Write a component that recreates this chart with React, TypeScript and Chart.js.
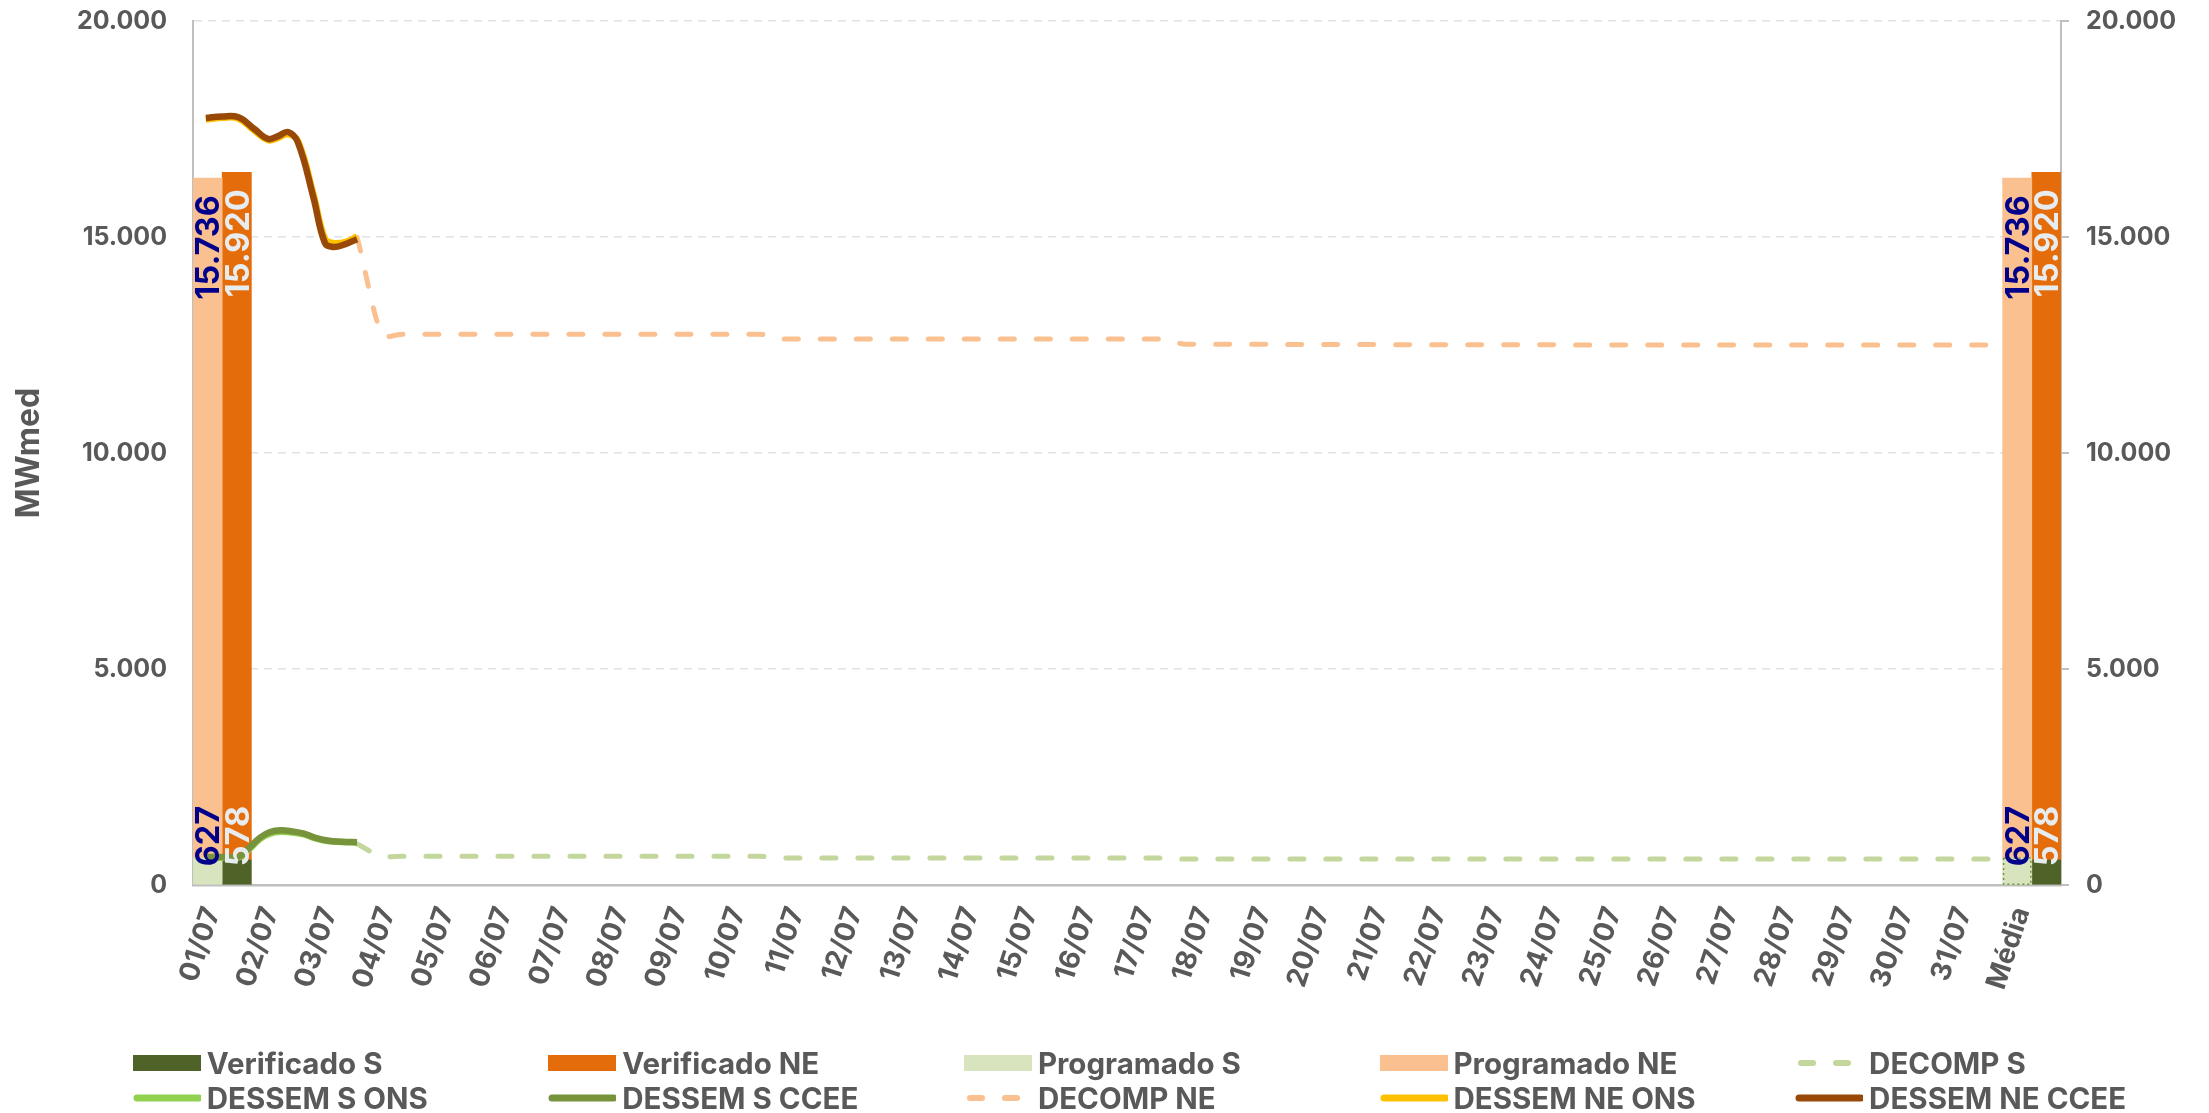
import React, { useEffect, useRef } from 'react';
import { Chart, registerables } from 'chart.js';

Chart.register(...registerables);

// ---------- data ----------
const categories = ['01/07', '02/07', '03/07', '04/07', '05/07', '06/07', '07/07', '08/07', '09/07', '10/07',
  '11/07', '12/07', '13/07', '14/07', '15/07', '16/07', '17/07', '18/07', '19/07', '20/07',
  '21/07', '22/07', '23/07', '24/07', '25/07', '26/07', '27/07', '28/07', '29/07', '30/07', '31/07', 'Média'];

const verificadoS = [578, null, null, null, null, null, null, null, null, null,
  null, null, null, null, null, null, null, null, null, null,
  null, null, null, null, null, null, null, null, null, null, null, 578];
const verificadoNE = [15920, null, null, null, null, null, null, null, null, null,
  null, null, null, null, null, null, null, null, null, null,
  null, null, null, null, null, null, null, null, null, null, null, 15920];
const programadoS = [627, null, null, null, null, null, null, null, null, null,
  null, null, null, null, null, null, null, null, null, null,
  null, null, null, null, null, null, null, null, null, null, null, 627];
const programadoNE = [15736, null, null, null, null, null, null, null, null, null,
  null, null, null, null, null, null, null, null, null, null,
  null, null, null, null, null, null, null, null, null, null, null, 15736];

// sub-daily series positions, in day units across the plot (0 = left edge, 32 = right edge)
const dessemNePos = [0.22, 0.5, 0.78, 1.05, 1.29, 1.45, 1.63, 1.8, 2.06, 2.26, 2.4, 2.6, 2.81];
const dessemNeCcee = [17756, 17790, 17770, 17500, 17270, 17330, 17430, 17180, 15930, 14860, 14770, 14830, 14950];
const dessemNeOns = [17720, 17760, 17740, 17460, 17240, 17290, 17380, 17220, 16010, 14960, 14860, 14880, 15010];

const dessemSPos = [0.22, 0.5, 0.8, 0.98, 1.15, 1.32, 1.5, 1.7, 1.9, 2.1, 2.3, 2.55, 2.81];
const dessemSCcee = [648, 650, 660, 880, 1100, 1227, 1265, 1240, 1190, 1090, 1030, 1000, 990];
const dessemSOns = [630, 635, 645, 850, 1070, 1190, 1230, 1215, 1175, 1080, 1020, 995, 985];

const decompPos = [2.81, 3.3, 3.6, 9.7, 10.1, 16.6, 17.0, 30.79];
const decompNE = [14990, 12690, 12750, 12750, 12640, 12640, 12520, 12500];
const decompS = [950, 650, 664, 664, 625, 625, 600, 600];

const yMin = 0;
const yMax = 20000;
const yStep = 5000;

// ---------- styles ----------
const C = {
  verS: '#4F6228',
  verNE: '#E46C0A',
  progS: '#D7E4BD',
  progNE: '#FAC090',
  decompS: '#C3D69B',
  dessemSOns: '#92D050',
  dessemSCcee: '#77933C',
  decompNE: '#FAC090',
  dessemNeOns: '#FFC000',
  dessemNeCcee: '#984807',
};
const TEXT = '#595959';
const AXIS = '#BFBFBF';
const GRID = '#DDE4E7';
const FONT = 'Inter, "Noto Sans", sans-serif';
const CLEAR = 'rgba(0,0,0,0)';

const fmt = (v: number) => String(Math.round(v)).replace(/\B(?=(\d{3})+(?!\d))/g, '.');
const zip = (xs: number[], ys: number[]) => xs.map((x, i) => ({ x, y: ys[i] }));

// two bar slots per category: Programado (left) and Verificado (right)
const barSlots = categories.flatMap((c) => [c + ' P', c + ' V']);
const leftSlot = (arr: (number | null)[]) => arr.flatMap((v) => [v, null]);
const rightSlot = (arr: (number | null)[]) => arr.flatMap((v) => [null, v]);

const legendItems = [
  { label: 'Verificado S', color: C.verS, kind: 'box' },
  { label: 'Verificado NE', color: C.verNE, kind: 'box' },
  { label: 'Programado S', color: C.progS, kind: 'box' },
  { label: 'Programado NE', color: C.progNE, kind: 'box' },
  { label: 'DECOMP S', color: C.decompS, kind: 'dash' },
  { label: 'DESSEM S ONS', color: C.dessemSOns, kind: 'line' },
  { label: 'DESSEM S CCEE', color: C.dessemSCcee, kind: 'line' },
  { label: 'DECOMP NE', color: C.decompNE, kind: 'dash' },
  { label: 'DESSEM NE ONS', color: C.dessemNeOns, kind: 'line' },
  { label: 'DESSEM NE CCEE', color: C.dessemNeCcee, kind: 'line' },
];

const labelSpecs = [
  { label: 'Programado S', color: '#00008B', anchor: 'base' },
  { label: 'Programado NE', color: '#00008B', anchor: 'end' },
  { label: 'Verificado S', color: '#E6ECEF', anchor: 'base' },
  { label: 'Verificado NE', color: '#E6ECEF', anchor: 'end' },
];

const barLabelPlugin = {
  id: 'barLabels',
  afterDatasetsDraw(chart: any) {
    const ctx = chart.ctx;
    // dotted border on Média "Programado S"
    const psIdx = chart.data.datasets.findIndex((d: any) => d.label === 'Programado S');
    const psMeta = chart.getDatasetMeta(psIdx);
    const last = psMeta.data[2 * (categories.length - 1)];
    if (last) {
      const { x, y, base, width } = last.getProps(['x', 'y', 'base', 'width'], true);
      ctx.save();
      ctx.strokeStyle = C.dessemSCcee;
      ctx.lineWidth = 1.5;
      ctx.setLineDash([2, 3]);
      ctx.strokeRect(x - width / 2 + 1, y, width - 2, base - y);
      ctx.restore();
    }
    labelSpecs.forEach((spec) => {
      const idx = chart.data.datasets.findIndex((d: any) => d.label === spec.label);
      const meta = chart.getDatasetMeta(idx);
      const vals = chart.data.datasets[idx].data;
      meta.data.forEach((el: any, i: number) => {
        const v = vals[i];
        if (v == null) return;
        const { x, y, base } = el.getProps(['x', 'y', 'base'], true);
        ctx.save();
        ctx.font = `bold 32.5px ${FONT}`;
        ctx.fillStyle = spec.color;
        ctx.textBaseline = 'alphabetic';
        if (spec.anchor === 'end') {
          ctx.translate(x, y + 17);
          ctx.rotate(-Math.PI / 2);
          ctx.textAlign = 'right';
        } else {
          ctx.translate(x, base - 18);
          ctx.rotate(-Math.PI / 2);
          ctx.textAlign = 'left';
        }
        ctx.fillText(fmt(v), 0, 11.8);
        ctx.restore();
      });
    });
  },
  afterDraw(chart: any) {
    // short outward tick marks on the right axis
    const s = chart.scales.y2;
    const ctx = chart.ctx;
    ctx.save();
    ctx.strokeStyle = AXIS;
    ctx.lineWidth = 2;
    s.ticks.forEach((_t: any, i: number) => {
      const py = Math.round(s.getPixelForTick(i));
      ctx.beginPath();
      ctx.moveTo(s.left, py);
      ctx.lineTo(s.left + 8, py);
      ctx.stroke();
    });
    ctx.restore();
  },
};

function LegendSample({ color, kind }: { color: string; kind: string }) {
  if (kind === 'box') {
    return (
      <svg width={68} height={20} style={{ display: 'block' }}>
        <rect x={0} y={2} width={68} height={16} fill={color} />
      </svg>
    );
  }
  if (kind === 'line') {
    return (
      <svg width={68} height={20} style={{ display: 'block' }}>
        <line x1={4} y1={10} x2={66} y2={10} stroke={color} strokeWidth={7} strokeLinecap="round" />
      </svg>
    );
  }
  return (
    <svg width={68} height={20} style={{ display: 'block' }}>
      <line x1={6} y1={10} x2={18} y2={10} stroke={color} strokeWidth={6} strokeLinecap="round" />
      <line x1={41} y1={10} x2={53} y2={10} stroke={color} strokeWidth={6} strokeLinecap="round" />
    </svg>
  );
}

export default function App() {
  const canvasRef = useRef<HTMLCanvasElement | null>(null);

  useEffect(() => {
    const canvas = canvasRef.current;
    if (!canvas) return;
    Chart.defaults.font.family = FONT;

    const barCommon = {
      type: 'bar' as const,
      xAxisID: 'xb',
      yAxisID: 'y',
      categoryPercentage: 1,
      barPercentage: 1,
      grouped: false,
      borderWidth: 0,
      order: 5,
    };
    const lineCommon = {
      type: 'line' as const,
      xAxisID: 'xl',
      yAxisID: 'y2',
      pointRadius: 0,
      pointHoverRadius: 0,
      fill: false,
      borderJoinStyle: 'round' as const,
    };

    const chart = new Chart(canvas, {
      type: 'bar',
      data: {
        labels: categories,
        datasets: [
          { ...barCommon, label: 'Programado S', data: leftSlot(programadoS), backgroundColor: C.progS },
          { ...barCommon, label: 'Programado NE', data: leftSlot(programadoNE), backgroundColor: C.progNE },
          { ...barCommon, label: 'Verificado S', data: rightSlot(verificadoS), backgroundColor: C.verS },
          { ...barCommon, label: 'Verificado NE', data: rightSlot(verificadoNE), backgroundColor: C.verNE },
          {
            ...lineCommon, label: 'DECOMP S', data: zip(decompPos, decompS), borderColor: C.decompS,
            borderWidth: 5, borderDash: [14, 22], borderCapStyle: 'round', cubicInterpolationMode: 'monotone', order: 4,
          },
          {
            ...lineCommon, label: 'DECOMP NE', data: zip(decompPos, decompNE), borderColor: C.decompNE,
            borderWidth: 5, borderDash: [14, 22], borderCapStyle: 'round', cubicInterpolationMode: 'monotone', order: 4,
          },
          {
            ...lineCommon, label: 'DESSEM S ONS', data: zip(dessemSPos, dessemSOns), borderColor: C.dessemSOns,
            borderWidth: 6.5, tension: 0.4, order: 3,
          },
          {
            ...lineCommon, label: 'DESSEM S CCEE', data: zip(dessemSPos, dessemSCcee), borderColor: C.dessemSCcee,
            borderWidth: 6.5, tension: 0.4, order: 2,
          },
          {
            ...lineCommon, label: 'DESSEM NE ONS', data: zip(dessemNePos, dessemNeOns), borderColor: C.dessemNeOns,
            borderWidth: 6.5, tension: 0.4, order: 1,
          },
          {
            ...lineCommon, label: 'DESSEM NE CCEE', data: zip(dessemNePos, dessemNeCcee), borderColor: C.dessemNeCcee,
            borderWidth: 6.5, tension: 0.4, order: 0,
          },
        ] as any,
      },
      options: {
        responsive: false,
        animation: false,
        events: [],
        layout: { padding: { top: 21, left: 0, right: 0, bottom: 0 } },
        plugins: {
          legend: { display: false },
          tooltip: { enabled: false },
          title: { display: false },
        },
        scales: {
          x: {
            type: 'category',
            offset: true,
            grid: { display: false, drawTicks: false },
            border: { display: true, color: AXIS, width: 2.5 },
            ticks: {
              autoSkip: false,
              maxRotation: 72,
              minRotation: 72,
              padding: 18,
              labelOffset: -10,
              color: TEXT,
              font: { size: 28, weight: 'bold' },
            },
            afterFit: (s: any) => { s.height = 228; },
          },
          xb: {
            type: 'category',
            labels: barSlots,
            display: false,
            offset: true,
            stacked: true,
          },
          xl: {
            type: 'linear',
            display: false,
            offset: false,
            grid: { offset: false },
            min: 0,
            max: 32,
          },
          y: {
            type: 'linear',
            position: 'left',
            stacked: true,
            min: yMin,
            max: yMax,
            grid: { color: GRID, lineWidth: 1.5, drawTicks: true, tickLength: 26, tickColor: CLEAR },
            border: { display: true, color: AXIS, width: 2, dash: [8, 6] },
            ticks: {
              stepSize: yStep,
              padding: 0,
              color: TEXT,
              font: { size: 25, weight: 'bold' },
              callback: (v: any) => fmt(Number(v)),
            },
            title: {
              display: true,
              text: 'MWmed',
              color: TEXT,
              font: { size: 32, weight: 'bold' },
              padding: { top: 10, bottom: 0 },
            },
            afterFit: (s: any) => { s.width = 193; },
          },
          y2: {
            type: 'linear',
            position: 'right',
            stacked: false,
            min: yMin,
            max: yMax,
            grid: { drawOnChartArea: false, drawTicks: true, tickLength: 25, tickColor: CLEAR },
            border: { display: true, color: AXIS, width: 2 },
            ticks: {
              stepSize: yStep,
              padding: 0,
              color: TEXT,
              font: { size: 25, weight: 'bold' },
              callback: (v: any) => fmt(Number(v)),
            },
            afterFit: (s: any) => { s.width = 148; },
          },
        },
      } as any,
      plugins: [barLabelPlugin],
    });

    return () => chart.destroy();
  }, []);

  return (
    <div style={{ position: 'absolute', left: 0, top: 0, width: 2209, height: 1113, overflow: 'hidden', background: '#fff' }}>
      <canvas ref={canvasRef} width={2209} height={1113} style={{ position: 'absolute', left: 0, top: 0, width: 2209, height: 1113 }} />
      {legendItems.map((it, i) => {
        const col = i % 5;
        const row = Math.floor(i / 5);
        return (
          <div
            key={it.label}
            style={{
              position: 'absolute',
              left: 132.7 + col * 415.6,
              top: 1063 + row * 34.5 - 17,
              height: 34,
              display: 'flex',
              alignItems: 'center',
              whiteSpace: 'nowrap',
            }}
          >
            <LegendSample color={it.color} kind={it.kind} />
            <span style={{ marginLeft: 6, fontFamily: FONT, fontWeight: 700, fontSize: 29.5, lineHeight: '34px', color: TEXT }}>
              {it.label}
            </span>
          </div>
        );
      })}
    </div>
  );
}
